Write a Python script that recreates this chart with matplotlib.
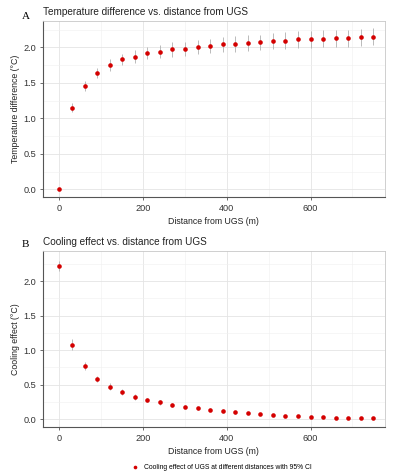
import matplotlib.pyplot as plt
import numpy as np

plt.rcParams['font.family'] = ['Liberation Sans', 'DejaVu Sans']

# distances from UGS (m)
distance = [0, 30, 60, 90, 120, 150, 180, 210, 240, 270, 300, 330, 360, 390,
            420, 450, 480, 510, 540, 570, 600, 630, 660, 690, 720, 750]

# panel A: temperature difference (deg C) and 95% CI half width
temp_diff = [0.00, 1.15, 1.46, 1.64, 1.75, 1.83, 1.87, 1.92, 1.94, 1.97, 1.98, 2.00, 2.02,
             2.04, 2.05, 2.06, 2.07, 2.09, 2.09, 2.11, 2.11, 2.12, 2.13, 2.13, 2.14, 2.15]
temp_ci = [0.01, 0.06, 0.07, 0.07, 0.08, 0.08, 0.09, 0.09, 0.09, 0.10, 0.10, 0.10, 0.10,
           0.11, 0.11, 0.11, 0.11, 0.11, 0.12, 0.12, 0.12, 0.12, 0.12, 0.12, 0.12, 0.12]

# panel B: cooling effect (deg C) and 95% CI half width
cooling = [2.22, 1.08, 0.77, 0.58, 0.47, 0.39, 0.32, 0.275, 0.24, 0.20, 0.18, 0.155, 0.135,
           0.12, 0.10, 0.087, 0.075, 0.058, 0.05, 0.04, 0.036, 0.03, 0.022, 0.02, 0.018, 0.015]
cool_ci = [0.07, 0.08, 0.06, 0.05, 0.05, 0.04, 0.04, 0.03, 0.03, 0.03, 0.02, 0.02, 0.02,
           0.02, 0.02, 0.02, 0.015, 0.015, 0.015, 0.01, 0.01, 0.01, 0.01, 0.01, 0.01, 0.01]

point_col = '#d40000'
bar_col = '#b0b0b0'

fig = plt.figure(figsize=(3.93, 4.73), dpi=100)
ax_a = fig.add_axes([0.1087, 0.5829, 0.871, 0.3727])
ax_b = fig.add_axes([0.1087, 0.0966, 0.871, 0.3734])


def style_panel(ax, ylim):
    ax.set_xlim(-40, 778)
    ax.set_ylim(*ylim)
    ax.set_xticks([0, 200, 400, 600])
    ax.set_xticks([100, 300, 500, 700], minor=True)
    ax.set_yticks([0.0, 0.5, 1.0, 1.5, 2.0])
    ax.set_yticks([0.25, 0.75, 1.25, 1.75, 2.25], minor=True)
    ax.set_yticklabels(['0.0', '0.5', '1.0', '1.5', '2.0'])
    ax.grid(which='major', color='#e4e4e4', lw=0.6)
    ax.grid(which='minor', color='#f0f0f0', lw=0.4)
    ax.set_axisbelow(True)
    for s in ['top', 'right']:
        ax.spines[s].set_color('#c8c8c8')
        ax.spines[s].set_linewidth(0.6)
    for s in ['left', 'bottom']:
        ax.spines[s].set_color('#555555')
        ax.spines[s].set_linewidth(0.8)
    ax.tick_params(which='major', length=2.5, width=0.6, color='#555555',
                   labelsize=6.6, labelcolor='#333333', pad=2)
    ax.tick_params(which='minor', length=0)
    ax.set_xlabel('Distance from UGS (m)', fontsize=6.3, color='#222222', labelpad=3)


# panel A
ax_a.errorbar(distance, temp_diff, yerr=temp_ci, fmt='none', ecolor=bar_col, elinewidth=0.6)
ax_a.plot(distance, temp_diff, 'o', color=point_col, ms=3.3, mec='none')
style_panel(ax_a, (-0.11, 2.37))
ax_a.set_ylabel('Temperature difference (°C)', fontsize=6.3, color='#222222', labelpad=3)
ax_a.set_title('Temperature difference vs. distance from UGS', fontsize=7.2,
               loc='left', pad=4, color='#222222')
fig.text(0.055, 0.966, 'A', fontsize=8, family='Liberation Serif', va='center')

# panel B
ax_b.errorbar(distance, cooling, yerr=cool_ci, fmt='none', ecolor=bar_col, elinewidth=0.6)
ax_b.plot(distance, cooling, 'o', color=point_col, ms=3.3, mec='none',
          label='Cooling effect of UGS at different distances with 95% CI')
style_panel(ax_b, (-0.12, 2.44))
ax_b.set_ylabel('Cooling effect (°C)', fontsize=6.3, color='#222222', labelpad=3)
ax_b.set_title('Cooling effect vs. distance from UGS', fontsize=7.2,
               loc='left', pad=4, color='#222222')
fig.text(0.055, 0.484, 'B', fontsize=8, family='Liberation Serif', va='center')

fig.legend(*ax_b.get_legend_handles_labels(), loc='center', bbox_to_anchor=(0.56, 0.011),
           frameon=False, fontsize=4.9, handletextpad=0.4, markerscale=0.8)

fig.savefig('out.png', dpi=100)
